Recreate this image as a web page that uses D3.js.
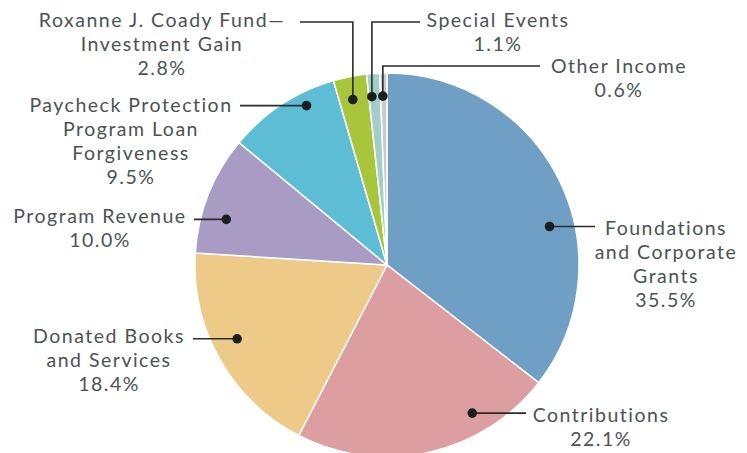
<!DOCTYPE html>
<html>
<head>
<meta charset="utf-8">
<script src="https://cdn.jsdelivr.net/npm/d3@7"></script>
<style>
  body { margin: 0; background: #fff; }
  svg text { font-family: Lato, sans-serif; fill: #4b5354; }
</style>
</head>
<body>
<div id="chart"></div>
<script>
// revenue breakdown
const categories = [
    "Foundations and Corporate Grants",
    "Contributions",
    "Donated Books and Services",
    "Program Revenue",
    "Paycheck Protection Program Loan Forgiveness",
    "Roxanne J. Coady Fund Investment Gain",
    "Special Events",
    "Other Income"
];
const values = [35.5, 22.1, 18.4, 10.0, 9.5, 2.8, 1.1, 0.6];
const valueLabels = ["35.5%", "22.1%", "18.4%", "10.0%", "9.5%", "2.8%", "1.1%", "0.6%"];
const labelLines = [
    ["Foundations", "and Corporate", "Grants"],
    ["Contributions"],
    ["Donated Books", "and Services"],
    ["Program Revenue"],
    ["Paycheck Protection", "Program Loan", "Forgiveness"],
    ["Roxanne J. Coady Fund\u2014", "Investment Gain"],
    ["Special Events"],
    ["Other Income"]
];
const colors = ["#6f9fc4", "#dc9ea1", "#eeca89", "#a89bc4", "#5cbdd5", "#a9c53c", "#9fcfc6", "#cbcbcb"];

const width = 747, height = 453;
const cx = 387, cy = 265, radius = 192;
const lineH = 24;

// label layout: t = position inside slice, rf = radius fraction of the dot,
// tx/ty = text centre & first baseline, lx = where leader meets the text,
// ey = elbow height for the leaders that go up first
const layout = [
    {t: 0.60, rf: 0.87, tx: 666, ty: 235, lx: 595},
    {t: 0.28, rf: 0.89, tx: 601, ty: 422, lx: 526},
    {t: 0.55, rf: 0.87, tx: 109, ty: 343, lx: 193},
    {t: 0.34, rf: 0.87, tx: 100, ty: 223, lx: 194},
    {t: 0.69, rf: 0.93, tx: 131, ty: 112, lx: 240},
    {t: 0.45, rf: 0.88, tx: 162, ty: 27, lx: 300, ey: 22},
    {t: 0.25, rf: 0.88, tx: 498, ty: 27, lx: 420, ey: 22},
    {t: 0.35, rf: 0.88, tx: 619, ty: 73, lx: 540, ey: 66}
];

const svg = d3.select("#chart")
    .append("svg")
    .attr("width", width)
    .attr("height", height);

const pie = d3.pie().sort(null).value(d => d);
const arcs = pie(values);

const arc = d3.arc().innerRadius(0).outerRadius(radius);

const g = svg.append("g").attr("transform", `translate(${cx},${cy})`);

g.selectAll("path")
    .data(arcs)
    .enter()
    .append("path")
    .attr("d", arc)
    .attr("fill", (d, i) => colors[i])
    .attr("stroke", "#fff")
    .attr("stroke-width", 1.5);

// leaders + dots
arcs.forEach((a, i) => {
    const L = layout[i];
    const ang = a.startAngle + (a.endAngle - a.startAngle) * L.t;
    const r = radius * L.rf;
    const dx = cx + r * Math.sin(ang);
    const dy = cy - r * Math.cos(ang);

    let pts;
    if (L.ey !== undefined) {
        pts = [[dx, dy], [dx, L.ey], [L.lx, L.ey]];
    } else {
        pts = [[dx, dy], [L.lx, dy]];
    }
    svg.append("path")
        .attr("d", d3.line()(pts))
        .attr("fill", "none")
        .attr("stroke", "#2b2b2b")
        .attr("stroke-width", 1.6);

    svg.append("circle")
        .attr("cx", dx)
        .attr("cy", dy)
        .attr("r", 4.8)
        .attr("fill", "#1e1e1e");

    const lines = labelLines[i].concat([valueLabels[i]]);
    lines.forEach((s, k) => {
        svg.append("text")
            .attr("text-anchor", "middle")
            .attr("x", L.tx)
            .attr("y", L.ty + k * lineH)
            .style("font-size", "19.5px")
            .style("letter-spacing", "1.5px")
            .text(s);
    });
});
</script>
</body>
</html>
